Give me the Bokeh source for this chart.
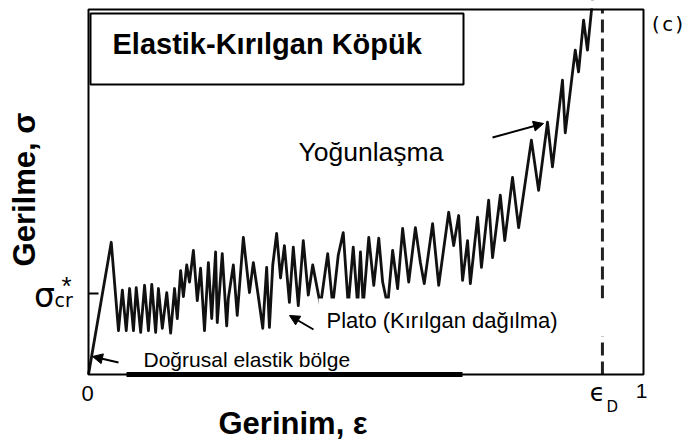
from bokeh.plotting import figure
from bokeh.models import Range1d, Label, BoxAnnotation, Arrow, NormalHead
from bokeh.embed import file_html
from bokeh.resources import INLINE

# ---- data (strain ε, stress σ in units of σ*_cr) ----
strain = [0.000, 0.041, 0.054, 0.061, 0.068, 0.074, 0.081, 0.086, 0.094, 0.101,
          0.108, 0.114, 0.121, 0.126, 0.133, 0.141, 0.148, 0.155, 0.160, 0.166,
          0.171, 0.177, 0.182, 0.189, 0.196, 0.202, 0.209, 0.216, 0.222, 0.229,
          0.232, 0.241, 0.249, 0.252, 0.261, 0.268, 0.279, 0.290, 0.297, 0.305,
          0.314, 0.321, 0.326, 0.332, 0.339, 0.346, 0.353, 0.362, 0.369, 0.378,
          0.387, 0.396, 0.404, 0.418, 0.431, 0.440, 0.450, 0.459, 0.468, 0.477,
          0.485, 0.490, 0.495, 0.505, 0.514, 0.523, 0.530, 0.539, 0.548, 0.557,
          0.566, 0.577, 0.589, 0.598, 0.605, 0.620, 0.631, 0.649, 0.658, 0.667,
          0.674, 0.683, 0.688, 0.701, 0.708, 0.721, 0.728, 0.742, 0.750, 0.764,
          0.775, 0.798, 0.811, 0.827, 0.836, 0.854, 0.859, 0.877, 0.883, 0.892,
          0.899, 0.910]
stress = [0.00, 1.63, 0.54, 1.04, 0.54, 1.06, 0.54, 1.07, 0.52, 1.10,
          0.54, 1.11, 0.52, 1.06, 0.57, 1.01, 0.51, 1.06, 0.69, 1.28,
          0.96, 1.35, 1.14, 1.53, 0.91, 1.31, 0.54, 1.38, 0.69, 1.51,
          0.64, 1.49, 0.60, 0.94, 1.35, 0.73, 1.69, 1.01, 1.38, 1.01,
          0.57, 1.32, 0.58, 1.35, 1.74, 1.19, 1.59, 0.89, 1.57, 0.85,
          1.65, 0.98, 1.35, 0.85, 1.49, 0.85, 1.47, 1.75, 0.85, 1.57,
          0.85, 1.51, 0.85, 1.69, 1.10, 1.68, 1.14, 0.85, 1.53, 1.06,
          1.80, 1.14, 1.81, 1.38, 1.12, 1.86, 1.10, 2.00, 1.59, 1.96,
          1.16, 1.65, 1.12, 1.94, 1.32, 2.15, 1.44, 2.21, 1.65, 2.43,
          1.81, 2.89, 2.27, 3.11, 2.56, 3.63, 2.98, 4.00, 3.73, 4.37,
          4.00, 4.74]
eps_D = 0.926
sigma_cr = 1.0
x_min, x_max = 0.0, 1.0      # strain axis limits (frame)
y_min, y_max = 0.0, 4.5      # stress axis limits (frame)

title_text = "Elastik-Kırılgan Köpük"
dens_text = "Yoğunlaşma"
plateau_text = "Plato (Kırılgan dağılma)"
linear_text = "Doğrusal elastik bölge"
x_title = "Gerinim, ε"
y_title = "Gerilme, σ"
panel_tag = "(c)"

FONT = "Liberation Sans"
W, H = 686, 442
# frame edges on the canvas (pixels)
FL, FR, FT, FB = 88, 643, 9, 374

sx = (FR - FL) / (x_max - x_min)
sy = (FB - FT) / (y_max - y_min)

def X(px):
    return x_min + (px - FL) / sx

def Y(py):
    return y_min + (FB - py) / sy

p = figure(width=W, height=H, title=None,
           x_range=Range1d(X(0), X(W)), y_range=Range1d(Y(H), Y(0)),
           x_axis_type=None, y_axis_type=None,
           toolbar_location=None, output_backend="svg",
           min_border=0, min_border_left=0, min_border_right=0,
           min_border_top=0, min_border_bottom=0)
p.background_fill_color = "white"
p.border_fill_color = "white"
p.outline_line_color = None

# stress-strain curve
p.line(strain, stress, line_width=2.8, line_color="#111111", line_join="round")

# densification strain (dashed)
p.segment(x0=[eps_D], y0=[y_min], x1=[eps_D], y1=[y_max],
          line_color="#222222", line_width=3, line_dash="13 6")

# sigma*_cr tick
p.segment(x0=[x_min], y0=[sigma_cr], x1=[X(98)], y1=[sigma_cr],
          line_color="black", line_width=2)

def box(l, r, t, b, fill="white", line=None, lw=2):
    p.add_layout(BoxAnnotation(left=X(l), right=X(r), top=Y(t), bottom=Y(b),
                               fill_color=fill, fill_alpha=1.0 if fill else 0.0,
                               line_color=line or "black",
                               line_alpha=1.0 if line else 0.0, line_width=lw))

# mask for the part of the curve running above the frame
box(FL - 5, FR + 5, -20, FT - 1)
# frame
box(FL, FR, FT, FB, fill=None, line="black", lw=2)
# title box and text backgrounds
box(90, 463, 13, 84, fill="white", line="black", lw=2)
box(318, 630, 298, 336)
box(125, 462, 337, 371)
# thick underline
box(126, 462, 371.5, 376.5, fill="black")

BASE_SHIFT = 0.31   # renderer places the alphabetic baseline ~0.31 em low

def lab(px, py, text, size, font=FONT, style="normal", align="left", angle=0):
    if angle == 0:
        py = py - BASE_SHIFT * size
    else:
        px = px - BASE_SHIFT * size
    p.add_layout(Label(x=X(px), y=Y(py), text=text, text_font=font,
                       text_font_size=f"{size}px", text_font_style=style,
                       text_align=align, text_baseline="alphabetic",
                       text_color="black", angle=angle, angle_units="deg"))

lab(112, 52, title_text, 29, style="bold")
lab(298, 160, dens_text, 26.5)
lab(326, 327, plateau_text, 22)
lab(143, 366, linear_text, 21)
lab(649, 30, panel_tag, 20, font="DejaVu Sans Mono")

# tick labels
lab(87, 400, "0", 22, align="center")
lab(641, 397, "1", 21, align="center")
lab(597, 400, "ϵ", 25, font="DejaVu Sans", align="center")
lab(606, 411, "D", 15, font="DejaVu Sans")
lab(44, 305, "σ", 33, font="DejaVu Sans", align="center")
lab(54, 305, "cr", 19, font="DejaVu Sans")
lab(66, 294, "*", 26, align="center")

# axis titles
lab(218, 433, x_title, 31, style="bold")
lab(34, 189, y_title, 31, style="bold", align="center", angle=90)

# arrows
def arrow(x0, y0, x1, y1):
    p.add_layout(Arrow(end=NormalHead(size=10, fill_color="black", line_color="black"),
                       x_start=X(x0), y_start=Y(y0), x_end=X(x1), y_end=Y(y1),
                       line_color="black", line_width=2))

arrow(118, 362, 92, 356)
arrow(313, 329, 289, 315)
arrow(492, 137, 543, 123)

open("out.html", "w").write(file_html(p, INLINE))
